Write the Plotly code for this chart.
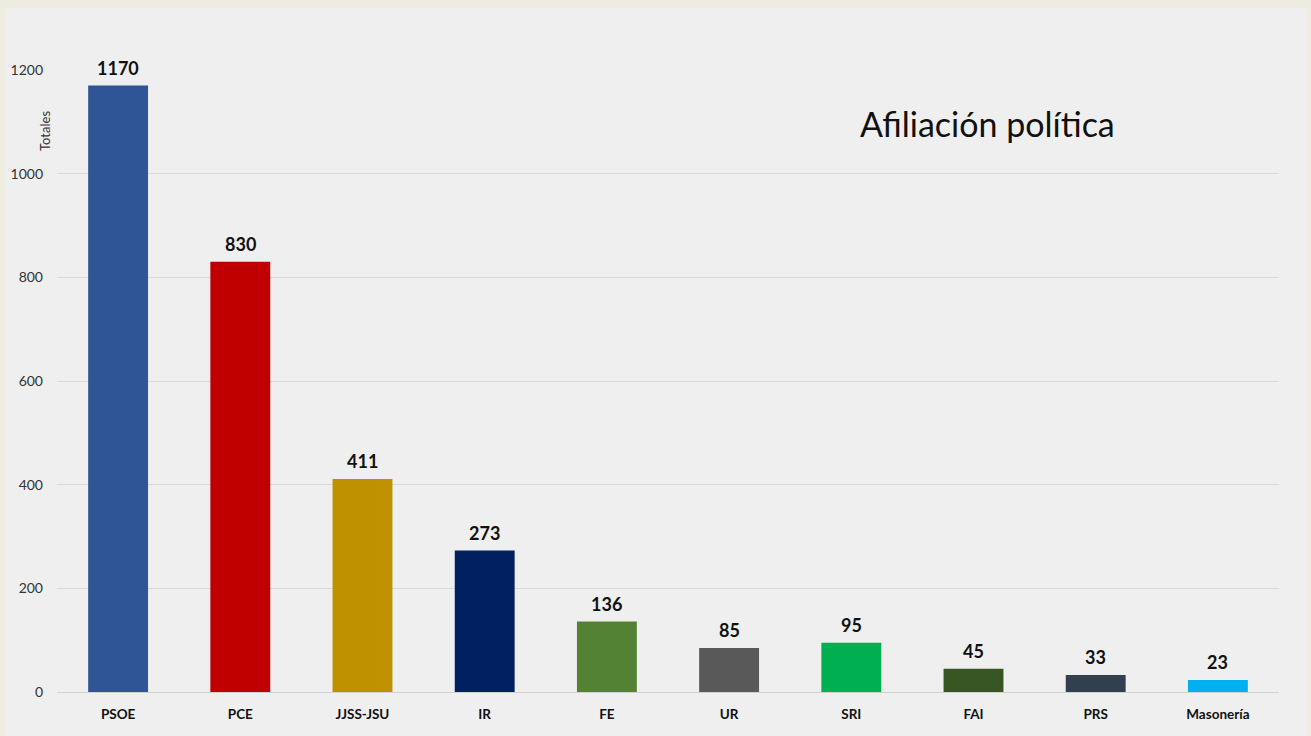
import plotly.graph_objects as go

categories = ["PSOE", "PCE", "JJSS-JSU", "IR", "FE", "UR", "SRI", "FAI", "PRS", "Masonería"]
values = [1170, 830, 411, 273, 136, 85, 95, 45, 33, 23]
bar_colors = ["#2F5597", "#C00000", "#BF9000", "#002060", "#548235",
              "#595959", "#00B050", "#375623", "#323F4F", "#00B0F0"]
y_ticks = [0, 200, 400, 600, 800, 1000, 1200]

W, H = 1311, 736
L, R, T, B = 57, 32, 70, 44
pw, ph = W - L - R, H - T - B

def px2x(px):
    return (px - L) / pw

def py2y(py):
    return (H - B - py) / ph

FONT = "Lato"

fig = go.Figure()
fig.add_trace(go.Bar(
    x=categories, y=values,
    marker=dict(color=bar_colors, line=dict(width=0)),
    hoverinfo="x+y",
))

label_annotations = [
    dict(x=c, y=v, xref="x", yref="y", text=str(v), showarrow=False,
         xanchor="center", yanchor="bottom", yshift=5,
         font=dict(family=FONT, size=18, color="#111111", weight="bold"))
    for c, v in zip(categories, values)
]

fig.update_layout(
    width=W, height=H,
    margin=dict(l=L, r=R, t=T, b=B),
    paper_bgcolor="#EEEBE1",
    plot_bgcolor="rgba(0,0,0,0)",
    bargap=0.51,
    showlegend=False,
    font=dict(family=FONT),
    xaxis=dict(
        showgrid=False, showline=False, ticks="",
        tickfont=dict(family=FONT, size=13.5, color="#111111", weight="bold"),
        ticklabelstandoff=12,
    ),
    yaxis=dict(
        range=[0, 1200], tickvals=y_ticks,
        showgrid=True, gridcolor="#D9D9D9", gridwidth=1,
        zeroline=True, zerolinecolor="#D0D0D0", zerolinewidth=1,
        showline=False, ticks="",
        tickfont=dict(family=FONT, size=14, color="#333333"),
        ticklabelstandoff=13,
    ),
    shapes=[dict(
        type="rect", xref="paper", yref="paper", layer="below",
        x0=px2x(5), x1=px2x(1307), y0=py2y(740), y1=py2y(8),
        fillcolor="#EFEFEF", line=dict(width=0),
    )],
    annotations=label_annotations + [
        dict(text="Afiliación política", xref="paper", yref="paper",
             x=px2x(987), y=py2y(123), xanchor="center", yanchor="middle",
             showarrow=False, font=dict(family=FONT, size=34, color="#111111")),
        dict(text="Totales", xref="paper", yref="paper",
             x=px2x(45), y=py2y(131), xanchor="center", yanchor="middle",
             textangle=-90, showarrow=False,
             font=dict(family=FONT, size=13, color="#333333")),
    ],
)

fig.write_html("out.html",
               config={"displayModeBar": False},
               post_script="document.body.style.margin='0';document.body.style.background='#EEEBE1';")
